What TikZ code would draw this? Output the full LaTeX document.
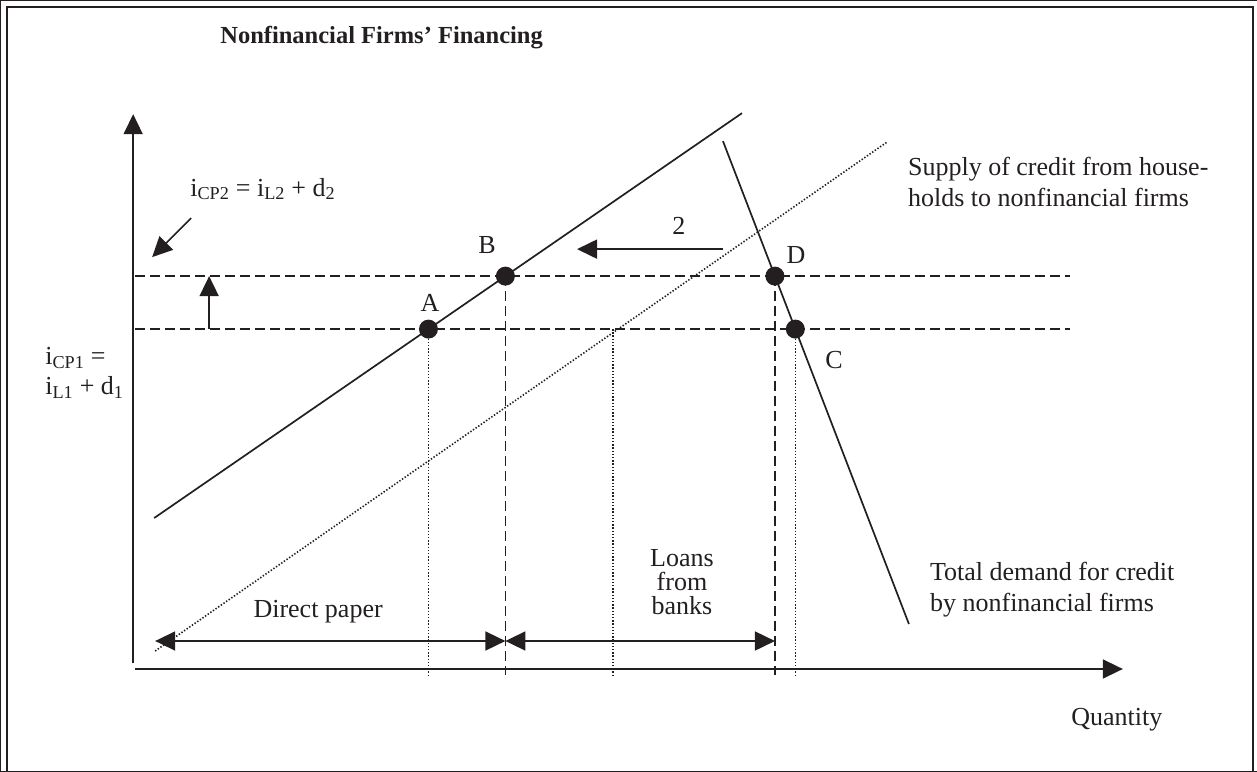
\documentclass[tikz,border=0pt]{standalone}
\usepackage{fontspec}
\setmainfont{Liberation Serif}
\usetikzlibrary{arrows.meta}
\definecolor{ink}{RGB}{35,31,32}
\begin{document}
\begin{tikzpicture}[x=1pt,y=-1pt,
  every path/.style={draw=ink},
  frame/.style={line width=1.5pt},
  tipped/.style={line width=1.7pt,-{Triangle[length=20pt,width=19pt]}},
  twotipped/.style={line width=1.7pt,{Triangle[length=20pt,width=19pt]}-{Triangle[length=20pt,width=19pt]}},
  curve/.style={line width=1.7pt},
  guide/.style={line width=1.6pt,dash pattern=on 10pt off 5pt},
  dotline/.style={line width=1.6pt,dash pattern=on 1.4pt off 1.8pt},
  bigdot/.style={circle,fill=ink,draw=none,inner sep=0pt,minimum size=19pt},
  lbl/.style={text=ink,inner sep=0pt,font=\fontsize{26}{31}\selectfont}]
\useasboundingbox (0,0) rectangle (1257,771);
\draw[frame] (7,771) -- (7,7) -- (1253,7) -- (1253,771);

% key coordinates
\coordinate (S1) at (154,518); \coordinate (S2) at (742,113);
\coordinate (T1) at (723,141); \coordinate (T2) at (909,624);
\coordinate (U1) at (155,651); \coordinate (U2) at (887,142);
\coordinate (H1a) at (135,276); \coordinate (H1b) at (1070,276);
\coordinate (H2a) at (135,329); \coordinate (H2b) at (1070,329);
\coordinate (A) at (intersection of S1--S2 and H2a--H2b);
\coordinate (B) at (intersection of S1--S2 and H1a--H1b);
\coordinate (D) at (intersection of T1--T2 and H1a--H1b);
\coordinate (C) at (intersection of T1--T2 and H2a--H2b);
\coordinate (E) at (613,329);
\coordinate (bot) at (0,675);
\coordinate (Yb) at (133,663); \coordinate (Yt) at (133,114);
\coordinate (Xl) at (135,669); \coordinate (Xr) at (1123,669);
\coordinate (R2s) at (723,249); \coordinate (R2e) at (577,249);
\coordinate (UpS) at (209,329); \coordinate (UpE) at (209,276);
\coordinate (DgS) at (191,218); \coordinate (DgE) at (152,257);
\coordinate (DPl) at (155,641);
\coordinate (DPm) at (B |- DPl);
\coordinate (DPr) at (D |- DPl);

% title
\node[lbl,anchor=base west,font=\fontsize{24.5}{29}\selectfont\bfseries] (title) at (220,43) {Nonfinancial Firms’ Financing};

% axes
\draw[tipped] (Yb) -- (Yt);
\draw[tipped] (Xl) -- (Xr);

% guides
\draw[guide] (H1a) -- (H1b);
\draw[guide] (H2a) -- (H2b);
\draw[guide] (B) -- (B |- bot);
\draw[guide] (D) -- (D |- bot);
\draw[dotline] (A) -- (A |- bot);
\draw[dotline] (E) -- (E |- bot);
\draw[dotline] (C) -- (C |- bot);

% curves
\draw[dotline] (U1) -- (U2);
\draw[curve] (S1) -- (S2);
\draw[curve] (T1) -- (T2);

% arrows
\draw[tipped] (R2s) -- (R2e);
\draw[tipped] (UpS) -- (UpE);
\draw[tipped] (DgS) -- (DgE);
\draw[twotipped] (DPl) -- (DPm);
\draw[twotipped] (DPm) -- (DPr);

% dots
\node[bigdot] (nA) at (A) {};
\node[bigdot] (nB) at (B) {};
\node[bigdot] (nC) at (C) {};
\node[bigdot] (nD) at (D) {};

% point labels
\node[lbl,anchor=base] (lA) at (430,311) {A};
\node[lbl,anchor=base] (lB) at (487,253) {B};
\node[lbl,anchor=base] (lD) at (796,263) {D};
\node[lbl,anchor=base] (lC) at (834,368) {C};
\node[lbl,anchor=base] (l2) at (679,234) {2};

% text labels
\node[lbl,anchor=base west] (icp2) at (190,196) {i\textsubscript{CP2} = i\textsubscript{L2} + d\textsubscript{2}};
\node[lbl,anchor=north west,align=left,font=\fontsize{26}{30}\selectfont] (icp1) at (45,347) {i\textsubscript{CP1} =\\i\textsubscript{L1} + d\textsubscript{1}};
\node[lbl,anchor=north west,align=left] (supply) at (908,157) {Supply of credit from house-\\holds to nonfinancial firms};
\node[lbl,anchor=north west,align=left] (demand) at (930,562) {Total demand for credit\\by nonfinancial firms};
\node[lbl,anchor=north,align=center,font=\fontsize{26}{24}\selectfont] (loans) at (682,549) {Loans\\from\\banks};
\node[lbl,anchor=base] (direct) at (318,617) {Direct paper};
\node[lbl,anchor=base] (qty) at (1117,726) {Quantity};
\end{tikzpicture}
\end{document}
